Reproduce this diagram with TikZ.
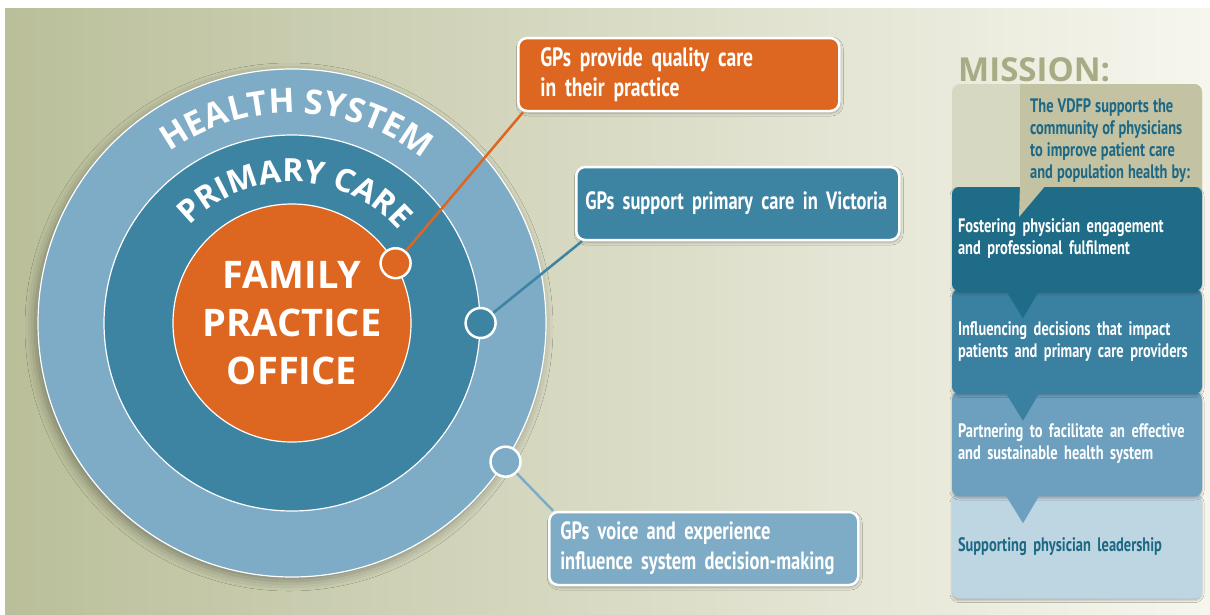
\documentclass[tikz,border=0pt]{standalone}
\usepackage{fontspec}
\usetikzlibrary{positioning, decorations.text, shadows.blur}
\newfontfamily\opensans{Open Sans}
\newfontfamily\narrowsans[FakeStretch=0.74]{PT Sans Bold}
\newcommand\gpfont{\narrowsans\fontsize{25}{30}\selectfont\spaceskip=5.5pt plus 1pt\relax}
\newcommand\mfont{\narrowsans\fontsize{19.5}{22}\selectfont\spaceskip=4pt plus 1pt\relax}
\definecolor{bgleft}{RGB}{186,191,154}
\definecolor{bgmid}{RGB}{222,223,203}
\definecolor{bgright}{RGB}{247,246,238}
\definecolor{hsblue}{RGB}{126,171,197}
\definecolor{pcblue}{RGB}{61,132,163}
\definecolor{fporange}{RGB}{221,102,32}
\definecolor{olivetxt}{RGB}{168,171,132}
\definecolor{olivelight}{RGB}{214,216,194}
\definecolor{olivedark}{RGB}{195,194,163}
\definecolor{mteal}{RGB}{30,108,136}
\definecolor{mblue}{RGB}{58,128,160}
\definecolor{mlight}{RGB}{108,160,190}
\definecolor{mpale}{RGB}{190,213,226}
\definecolor{darkteal}{RGB}{29,104,133}
\tikzset{x=1pt, y=1pt, node distance=102.5pt,
  ring/.style={circle, draw=white, line width=1.2pt, inner sep=0pt},
  dot/.style={circle, draw=white, line width=2.5pt, minimum size=30pt, inner sep=0pt},
  gpbox/.style={rectangle, rounded corners=9pt, draw=white, line width=2.5pt, text=white, align=left, anchor=west, minimum height=73pt, font=\gpfont,
    blur shadow={shadow xshift=1pt, shadow yshift=-2pt, shadow blur radius=3pt, shadow opacity=30}},
  mbox/.style={rectangle, rounded corners=7pt, minimum width=250pt, minimum height=104pt, text width=238pt, inner xsep=6pt, align=left, text=white, font=\mfont,
    blur shadow={shadow xshift=0pt, shadow yshift=-2pt, shadow blur radius=2pt, shadow opacity=25}},
  link/.style={line width=2.5pt}
}

\begin{document}
\begin{tikzpicture}
  \useasboundingbox (0,0) rectangle (1210,-614);
  \fill[left color=bgleft, middle color=bgmid, right color=bgright] (5,-8) rectangle (1210,-614);

  \node[ring, fill=hsblue, minimum size=508pt, blur shadow={shadow xshift=-3pt, shadow yshift=-4pt, shadow blur radius=10pt, shadow opacity=35}] (hs) at (292,-323) {};
  \node[ring, fill=pcblue, minimum size=376pt] (pc) at (hs) {};
  \node[ring, fill=fporange, minimum size=238pt, text=white, align=center, font=\opensans\bfseries\fontsize{38}{48}\selectfont] (fpo) at (hs) {FAMILY\\PRACTICE\\OFFICE};
  \path[decorate, decoration={text along path, text align=center, text={|\opensans\bfseries\fontsize{34}{34}\selectfont\color{white}|HEALTH SYSTEM}}]
    (hs.center) ++(140:210pt) arc[start angle=140, end angle=37, radius=210pt];
  \path[decorate, decoration={text along path, text align=center, text={|\opensans\bfseries\fontsize{32}{32}\selectfont\color{white}|PRIMARY CARE}}]
    (hs.center) ++(145:141pt) arc[start angle=145, end angle=32, radius=141pt];

  \node[dot, fill=fporange] (d1) at (fpo.30) {};
  \node[dot, fill=pcblue] (d2) at (pc.0) {};
  \node[dot, fill=hsblue] (d3) at (hs.-33) {};

  \node[gpbox, fill=fporange, text width=277pt, inner xsep=22pt, font=\gpfont\fontsize{26.5}{30}\selectfont] (quality) at (517,-74.5) {GPs provide quality care\\in their practice};
  \node[gpbox, fill=pcblue, text width=305pt, inner xsep=9pt] (victoria) at (575,-203.5) {GPs support primary care in Victoria};
  \node[gpbox, fill=hsblue, text width=287pt, inner xsep=11pt] (voice) at (548,-548.5) {GPs voice and experience\\influence system decision-making};
  \draw[link, fporange] (d1) -- ([xshift=6pt]quality.south west);
  \draw[link, pcblue] (d2) -- ([xshift=7pt]victoria.south west);
  \draw[link, hsblue] (d3) -- ([xshift=5pt]voice.north west);

  \node[anchor=base west, inner sep=0pt, text=olivetxt, font=\opensans\bfseries\fontsize{33}{33}\selectfont] (mission) at (958,-81) {MISSION:};
  \fill[olivelight, rounded corners=8pt] (952,-84) rectangle (1202,-205);
  \begin{scope}
    \clip (1020,-80) rectangle (1210,-210);
    \fill[olivedark, rounded corners=8pt] (952,-84) rectangle (1202,-205);
  \end{scope}
  \node[anchor=north west, inner sep=0pt, align=left, text=darkteal, font=\mfont] (vdfp) at (1030,-98) {The VDFP supports the\\community of physicians\\to improve patient care\\and population health by:};

  \node[mbox, fill=mpale, text=darkteal] (lead) at (1077,-546.5) {Supporting physician leadership};
  \node[mbox, fill=mlight, above of=lead] (part) {Partnering to facilitate an effective\\and sustainable health system};
  \fill[mlight] ([xshift=-72pt, yshift=2pt]part.south) -- ++(35,0) -- ++(-17,-29) -- cycle;
  \node[mbox, fill=mblue, above of=part] (infl) {Influencing decisions that impact\\patients and primary care providers};
  \fill[mblue] ([xshift=-72pt, yshift=2pt]infl.south) -- ++(35,0) -- ++(-17,-29) -- cycle;
  \node[mbox, fill=mteal, above of=infl] (fost) {Fostering physician engagement\\and professional fulfilment};
  \fill[mteal] ([xshift=-72pt, yshift=2pt]fost.south) -- ++(35,0) -- ++(-17,-29) -- cycle;
  \fill[olivedark] (1020,-185) -- (1046,-185) -- (1019,-217) -- cycle;
\end{tikzpicture}
\end{document}
